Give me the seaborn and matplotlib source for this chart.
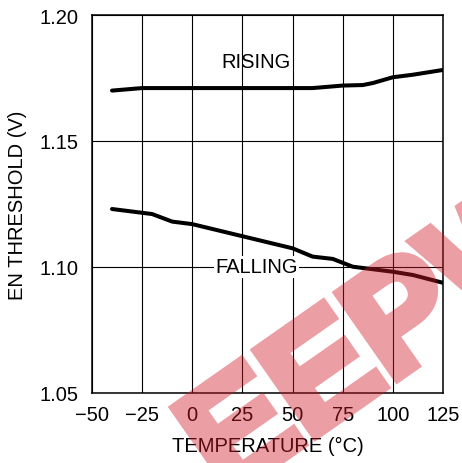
import matplotlib
matplotlib.use('Agg')
import matplotlib.pyplot as plt
import matplotlib.patheffects as pe
import seaborn as sns
import pandas as pd

sns.set_theme(style='white')
plt.rcParams['font.family'] = ['Liberation Sans', 'DejaVu Sans']
plt.rcParams['text.color'] = 'black'

# Rising threshold vs temperature
rise_temp = [-40, -25, 0, 25, 50, 60, 75, 85, 90, 100, 110, 125]
rise_volt = [1.170, 1.1710, 1.1710, 1.1710, 1.1710, 1.1710, 1.1720, 1.1722, 1.1730, 1.1753, 1.1763, 1.1782]

# Falling threshold vs temperature
fall_temp = [-40, -20, -10, 0, 25, 50, 60, 70, 80, 100, 110, 125]
fall_volt = [1.1230, 1.1210, 1.1180, 1.1170, 1.1122, 1.1074, 1.1041, 1.1032, 1.1001, 1.0981, 1.0968, 1.0937]

x_ticks = [-50, -25, 0, 25, 50, 75, 100, 125]
y_ticks = [1.05, 1.10, 1.15, 1.20]

df = pd.concat([
    pd.DataFrame({'temp': rise_temp, 'volt': rise_volt, 'edge': 'RISING'}),
    pd.DataFrame({'temp': fall_temp, 'volt': fall_volt, 'edge': 'FALLING'}),
])

fig = plt.figure(figsize=(4.62, 4.64), dpi=100)
ax = fig.add_axes([0.199, 0.151, 0.76, 0.8145])

sns.lineplot(data=df, x='temp', y='volt', hue='edge', palette=['black', 'black'],
             linewidth=2.9, legend=False, ax=ax, zorder=3)

ax.set_xlim(-50, 125)
ax.set_ylim(1.05, 1.20)
ax.set_xticks(x_ticks)
ax.set_yticks(y_ticks)
ax.set_yticklabels([f'{v:.2f}' for v in y_ticks])
ax.grid(True, color='black', linewidth=0.8)
for s in ax.spines.values():
    s.set_color('black')
    s.set_linewidth(1.1)
ax.tick_params(axis='both', length=0, labelsize=14.5, colors='black')
ax.tick_params(axis='y', pad=10)
ax.tick_params(axis='x', pad=9)
ax.set_xlabel('TEMPERATURE (°C)', fontsize=14.5, color='black', labelpad=8)
ax.set_ylabel('EN THRESHOLD (V)', fontsize=14.5, color='black', labelpad=9)

ax.text(32, 1.1817, 'RISING', fontsize=14.5, ha='center', va='center', zorder=4)
ax.text(32, 1.100, 'FALLING', fontsize=14.5, ha='center', va='center', zorder=4,
        bbox=dict(facecolor='white', edgecolor='none', pad=1))


# watermark: draw opaque (with a thick outline), then fade the whole layer
def fade(img, dpi):
    img = img.copy()
    img[..., 3] *= 0.42
    return img, 0, 0


wm_color = (0.82, 0.1, 0.15)
wm = fig.text(0.488, -0.076, 'EEPW', fontsize=108, fontweight='bold', rotation=35,
              rotation_mode='anchor', ha='left', va='baseline', color=wm_color,
              path_effects=[pe.Stroke(linewidth=7, foreground=wm_color, joinstyle='miter'),
                            pe.Normal()])
wm.set_agg_filter(fade)

fig.savefig('out.png', dpi=100)
